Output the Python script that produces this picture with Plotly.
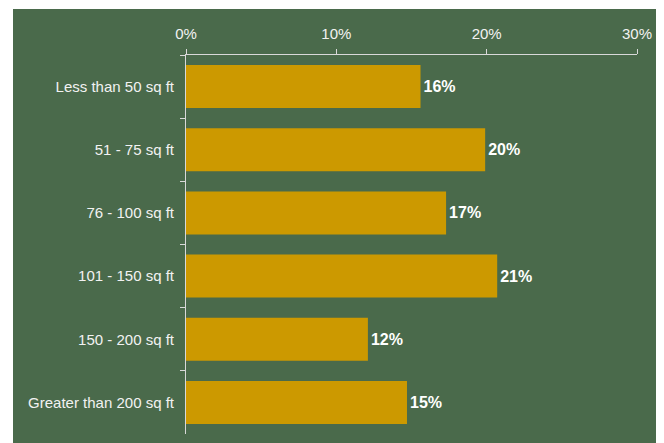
import plotly.graph_objects as go

categories = ["Less than 50 sq ft", "51 - 75 sq ft", "76 - 100 sq ft",
              "101 - 150 sq ft", "150 - 200 sq ft", "Greater than 200 sq ft"]
values = [0.156, 0.199, 0.173, 0.207, 0.121, 0.147]
tick_vals = [0, 0.1, 0.2, 0.3]
tick_text = ["0%", "10%", "20%", "30%"]

GREEN = "#4A6A4B"
BAR = "#CC9900"
AXIS = "#D9D9D9"
FONT = "Liberation Sans, Arial, sans-serif"

W, H = 656, 435
L, R, T, B = 178, 27, 47, 9
pw, ph = W - L - R, H - T - B

fig = go.Figure(go.Bar(
    y=categories, x=values, orientation="h",
    marker=dict(color=BAR, line=dict(width=0)),
    texttemplate="<b>%{x:.0%}</b>", textposition="outside",
    textfont=dict(family=FONT, size=16, color="white"),
    cliponaxis=False,
))

fig.update_layout(
    width=W, height=H,
    margin=dict(l=L, r=R, t=T, b=B, pad=0),
    paper_bgcolor="white", plot_bgcolor=GREEN,
    bargap=0.32, showlegend=False,
    font=dict(family=FONT, size=15, color="#F2F2F2"),
    shapes=[dict(type="rect", xref="paper", yref="paper", layer="below",
                 x0=(5 - L) / pw, x1=(651 - L) / pw,
                 y0=-(B + 5) / ph, y1=1 + (T - 1) / ph,
                 fillcolor=GREEN, line=dict(width=0))],
    xaxis=dict(side="top", range=[0, 0.3], tickvals=tick_vals, ticktext=tick_text,
               showgrid=False, zeroline=False, showline=True, linecolor=AXIS,
               linewidth=1, ticks="outside", ticklen=5, tickcolor=AXIS,
               ticklabelstandoff=4, fixedrange=True),
    yaxis=dict(autorange="reversed", showgrid=False, zeroline=False, showline=True,
               linecolor=AXIS, linewidth=1, ticks="outside", ticklen=5,
               tickcolor=AXIS, tickson="boundaries", ticklabelstandoff=8),
)

fig.write_html("out.html")
